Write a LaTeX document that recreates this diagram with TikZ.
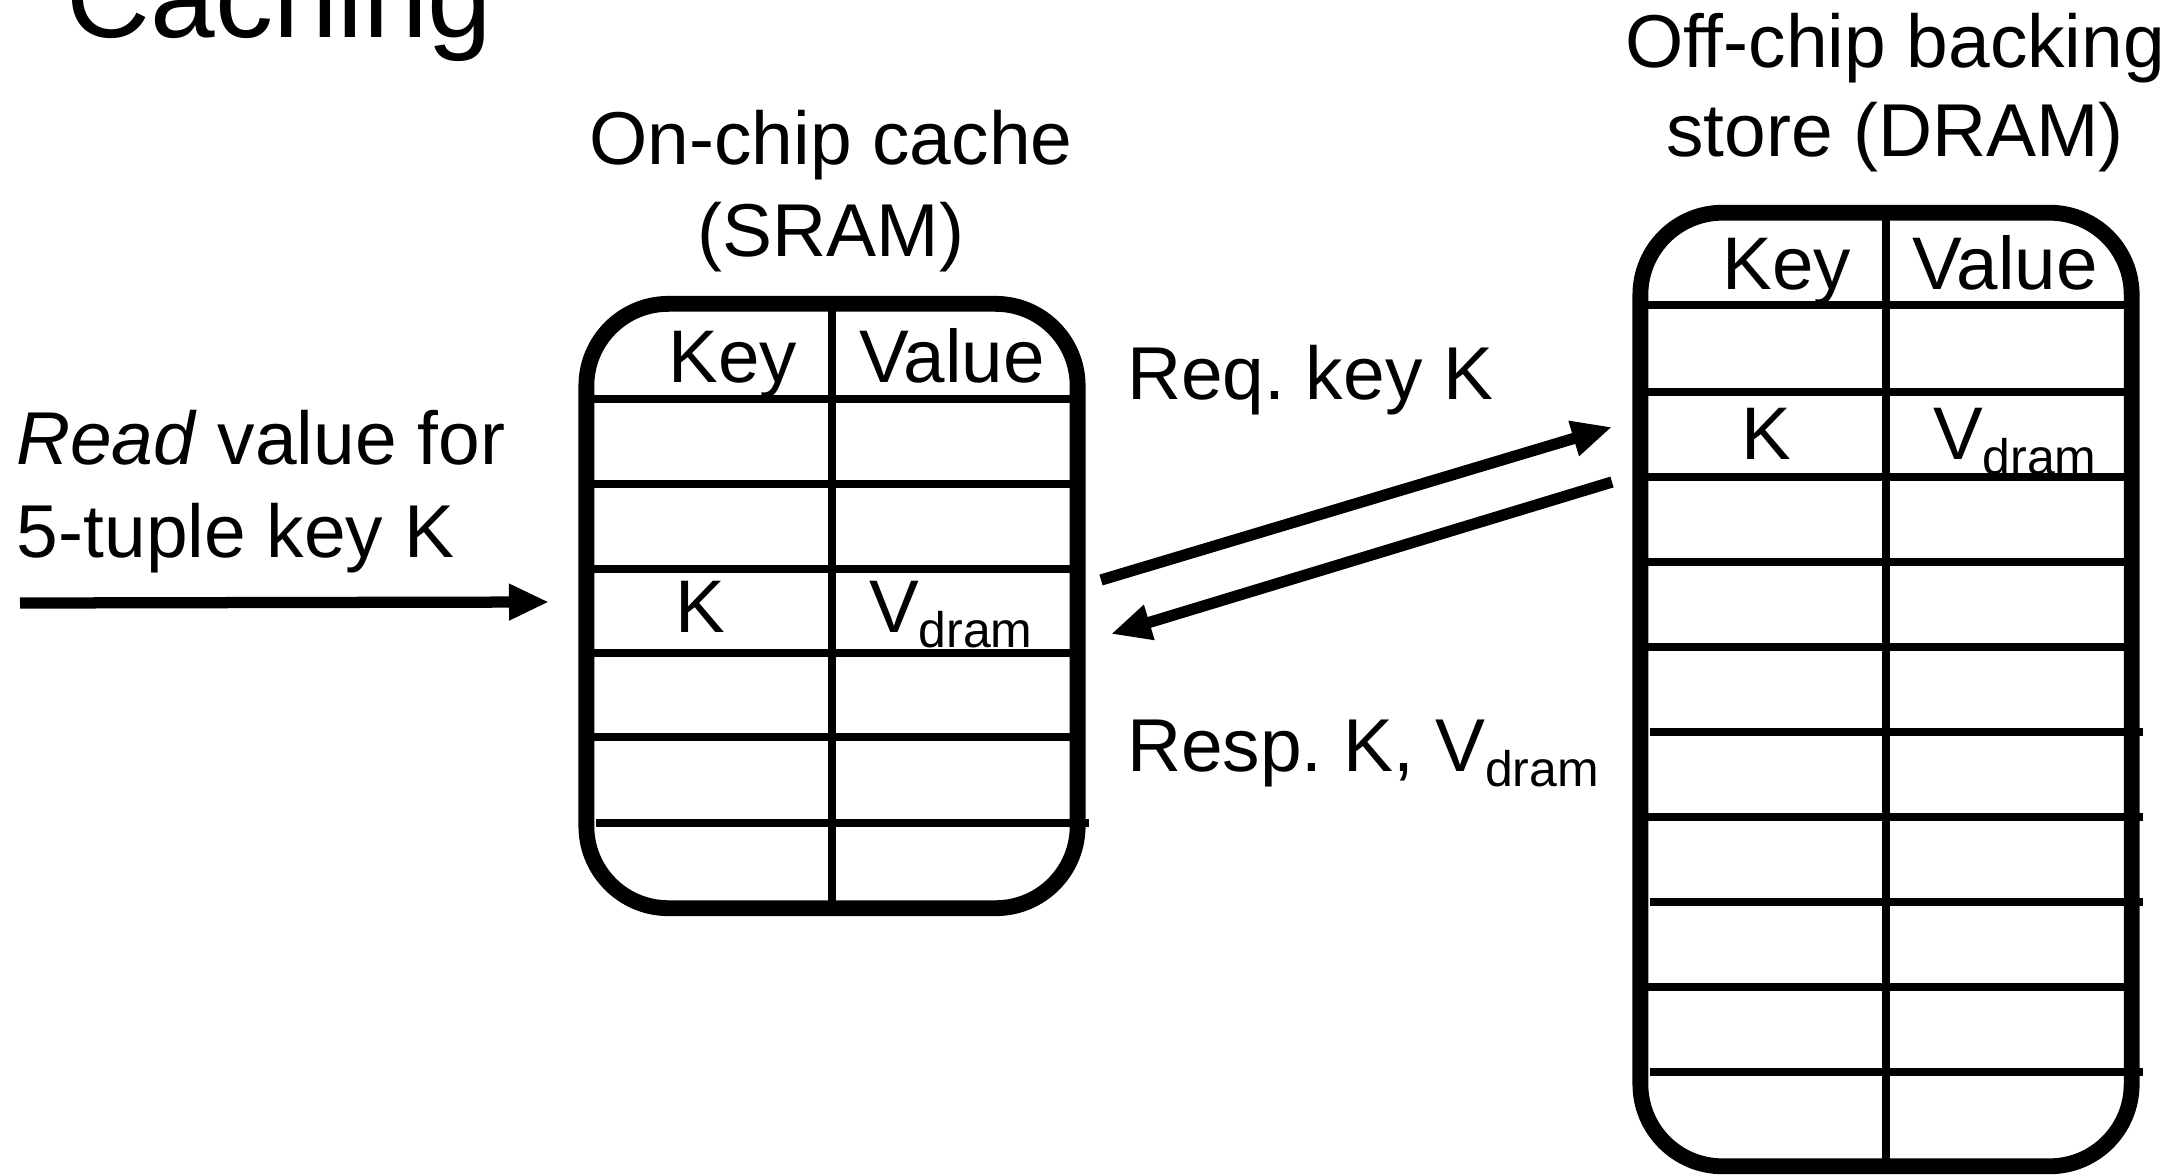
\documentclass[tikz,border=0pt]{standalone}
\usepackage{fontspec}
\setmainfont{Liberation Sans}
\usetikzlibrary{arrows.meta}
\frenchspacing
% value with a lowered "dram" subscript
\newcommand\vdram{V\raisebox{-0.21em}{\fontsize{14.2}{14.2}\selectfont dram}}
\begin{document}
\begin{tikzpicture}[x=0.01cm, y=-0.01cm,
  lbl/.style={font=\fontsize{21.3}{25}\selectfont, inner sep=0pt, outer sep=0pt},
  celltext/.style={font=\fontsize{21.2}{25}\selectfont, inner sep=0pt, outer sep=0pt},
  storebox/.style={draw, line width=4.5pt, rounded corners=0.82cm, inner sep=0pt,
    outer sep=0pt, minimum width=4.91cm},
  tabline/.style={line width=2.1pt},
  flowarrow/.style={line width=3.2pt, -{Triangle[length=0.40cm, width=0.34cm]}}]

\useasboundingbox (0,0) rectangle (2182,1175);
\clip (0,0) rectangle (2182,1175);

% heading
\node[font=\fontsize{33}{38}\selectfont, inner sep=0pt, anchor=base west] (title) at (66,37) {Caching};

% on-chip cache table
\node[storebox, minimum height=6.04cm] (cache) at (832,606) {};
\foreach \y in {399,484,569,653,737}
  \draw[tabline] (587,\y) -- (1078,\y);
\draw[tabline] (596,823) -- (1089,823);
\draw[tabline] (cache.north) -- (cache.south);

\node[lbl, anchor=base] (cachelabA) at (831,164) {On-chip cache};
\node[lbl, anchor=base] (cachelabB) at (831,256) {(SRAM)};
\node[celltext, anchor=base] (ckey) at (733,382) {Key};
\node[celltext, anchor=base] (cval) at (952,382) {Value};
\node[celltext, anchor=base] (ck) at (700,632) {K};
\node[celltext, anchor=base west] (cv) at (869,632) {\vdram};

% off-chip backing store table
\node[storebox, minimum height=9.53cm] (dram) at (1886,689.5) {};
\foreach \y in {305,392,477,562,647,987}
  \draw[tabline] (1641,\y) -- (2132,\y);
\draw[tabline] (1641,817) -- (2143,817);
\foreach \y in {732,902,1072}
  \draw[tabline] (1650,\y) -- (2143,\y);
\draw[tabline] (dram.north) -- (dram.south);

\node[lbl, anchor=base] (dramlabA) at (1895,67) {Off-chip backing};
\node[lbl, anchor=base] (dramlabB) at (1895,156) {store (DRAM)};
\node[celltext, anchor=base] (dkey) at (1787,289) {Key};
\node[celltext, anchor=base] (dval) at (2005,289) {Value};
\node[celltext, anchor=base] (dk) at (1766,459) {K};
\node[celltext, anchor=base west] (dv) at (1933,459) {\vdram};

% request text and arrows
\node[lbl, anchor=base west] (readA) at (16,464) {\textit{Read} value for};
\node[lbl, anchor=base west] (readB) at (17,557) {5-tuple key K};
\node[lbl, anchor=base west] (req) at (1127,399) {Req. key K};
\node[lbl, anchor=base west] (resp) at (1127,771) {Resp. K, \vdram};

\coordinate (inA) at (20,603);
\coordinate (inB) at (549,602);
\coordinate (reqA) at (1101,580);
\coordinate (reqB) at (1612,427);
\coordinate (respA) at (1612,482);
\coordinate (respB) at (1111,634);

\draw[flowarrow] (inA) -- (inB);
\draw[flowarrow] (reqA) -- (reqB);
\draw[flowarrow] (respA) -- (respB);
\end{tikzpicture}
\end{document}
